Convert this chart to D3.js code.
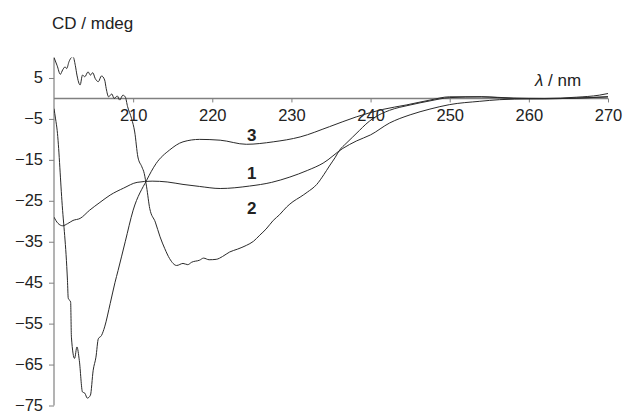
<!DOCTYPE html>
<html>
<head>
<meta charset="utf-8">
<script src="https://cdn.jsdelivr.net/npm/d3@7"></script>
<style>
  body { margin: 0; background: #fff; }
  text { font-family: "Liberation Sans", Arial, sans-serif; }
</style>
</head>
<body>
<div id="chart"></div>
<script>
// wavelength (nm) / CD (mdeg) pairs
const curve1 = [[200,-29],[200.5,-30.5],[201.1,-31.1],[201.7,-30.6],[202.4,-29.8],[203.3,-29.3],[204.5,-27.3],[205.8,-25.4],
  [207.1,-23.6],[208.8,-21.9],[210.5,-20.5],[212.4,-20.2],[214.3,-20.4],[216.3,-21],[218.4,-21.5],[221,-22],[224.7,-21.4],
  [227.5,-20.5],[229.8,-19.2],[232,-17.6],[234,-15.8],[236.5,-12.2],[238.2,-10.4],[240,-8.9],[242.4,-6],[245,-4],
  [247.5,-2.6],[250,-1.5],[253.8,-0.7],[256.3,-0.3],[260,-0.1],[265,0],[270,0.4]];

const curve2 = [[200,10],[200.4,8],[200.8,5.9],[201.1,7],[201.4,7.7],[201.6,7.3],[201.9,9],[202.2,10],[202.4,10.2],
  [202.7,8],[202.9,5.7],[203.3,3.3],[203.6,5.7],[203.9,5.3],[204.3,6.5],[204.6,5.7],[204.9,6.3],[205.2,4.9],[205.6,4.1],
  [206,5.5],[206.4,4.5],[206.6,2.4],[206.9,0.4],[207.3,1.1],[207.6,0],[208,0.6],[208.3,-0.4],[208.7,0.8],[209,0.4],
  [209.3,-2],[209.8,-4.9],[210.2,-8.2],[210.6,-14.3],[211.1,-16.7],[211.4,-18.3],[211.7,-21.6],[212.1,-26.9],[212.8,-30.2],
  [213.4,-33.8],[214,-36.7],[214.6,-39.1],[215.5,-40.8],[216.3,-40.3],[216.9,-40.6],[217.4,-40],[218.4,-39.5],[218.9,-39],
  [219.6,-39.4],[220.5,-39.3],[221.3,-38.6],[222.2,-37.5],[223.2,-36.8],[224.3,-35.9],[225.2,-34.9],[226,-33.4],
  [226.8,-31.9],[227.7,-29.8],[228.5,-28.4],[229.4,-26.5],[230.2,-25.2],[231.1,-24.1],[232,-22.9],[233.2,-21],
  [234.1,-18.6],[234.8,-16.5],[235.5,-14.5],[236.1,-12.6],[236.9,-11],[237.7,-9.5],[238.6,-7.8],[239.4,-6.3],[240.3,-4.9],
  [242.4,-2.9],[245,-1.6],[247.5,-0.6],[250,0.2],[254,0.4],[258,0.1],[262,0],[266,0.3],[268.9,0.8],[270,1.2]];

const curve3 = [[200,-2.5],[200.2,-5],[200.4,-7.8],[201,-25],[201.7,-44.4],[201.8,-48.8],[202.1,-49.7],[202.2,-58.3],
  [202.6,-63.5],[202.9,-60.7],[203.2,-64],[203.6,-71.7],[203.9,-72],[204.2,-73.2],[204.6,-72.5],[204.95,-66.4],
  [205.3,-63.2],[205.6,-58.7],[206,-57.9],[206.4,-55.8],[207.1,-50.1],[207.7,-45],[208.1,-42],[209,-35],[210,-27.3],
  [211.7,-20],[212.9,-15.9],[214.6,-12.6],[216.3,-10.6],[218.4,-10],[221,-10.2],[224.3,-11.2],[227.7,-10.6],[231.1,-9.4],
  [234.8,-6.9],[238.2,-4.5],[241.5,-2.7],[244.5,-1.6],[247.5,-0.4],[250,0.4],[254,0.4],[258,0],[262,-0.1],[266,0.1],[270,0.4]];

const xTicks = [210, 220, 230, 240, 250, 260, 270];
const yTicks = [5, -5, -15, -25, -35, -45, -55, -65, -75];

// curve number labels, placed at (nm, mdeg)
const curveLabels = [["3", 225, -9], ["1", 225, -18.2], ["2", 225, -26.8]];

const width = 625, height = 412;

const svg = d3.select("#chart").append("svg")
    .attr("width", width)
    .attr("height", height);

const x = d3.scaleLinear().domain([200, 270]).range([54, 608]);
const y = d3.scaleLinear().domain([-75, 10]).range([405.5, 57.5]);

const axisColor = "#808080";

// clip so the noisy curve 2 is cut at the top of the frame
svg.append("clipPath").attr("id", "plotclip")
    .append("rect")
    .attr("x", x(200)).attr("y", y(10))
    .attr("width", x(270) - x(200) + 2)
    .attr("height", y(-75) - y(10));

// y axis
let yAxis = svg.append("g")
    .attr("transform", "translate(" + x(200) + ",0)")
    .call(d3.axisLeft(y).tickValues(yTicks).tickSize(5).tickPadding(6)
        .tickFormat(d => d < 0 ? "\u2212" + Math.abs(d) : d));
yAxis.select(".domain").remove();
yAxis.append("line")
    .attr("x1", 0).attr("x2", 0)
    .attr("y1", y(10)).attr("y2", y(-75))
    .attr("stroke", axisColor).attr("stroke-width", 1.2);
yAxis.selectAll(".tick text").attr("dy", "0.3em");

// x axis sits on the zero line
let xAxis = svg.append("g")
    .attr("transform", "translate(0," + y(0) + ")")
    .call(d3.axisBottom(x).tickValues(xTicks).tickSize(4).tickPadding(7).tickFormat(d3.format("d")));
xAxis.select(".domain").remove();
xAxis.append("line")
    .attr("x1", x(200)).attr("x2", x(270))
    .attr("stroke", axisColor).attr("stroke-width", 1.5);

svg.selectAll(".tick line").attr("stroke", axisColor);
svg.selectAll(".tick text")
    .attr("fill", "#222")
    .style("font-size", "16.5px")
    .style("font-family", "'Liberation Sans', Arial, sans-serif");

// spectra
const line = d3.line()
    .x(d => x(d[0]))
    .y(d => y(d[1]))
    .curve(d3.curveMonotoneX);

[curve1, curve2, curve3].forEach(function(c) {
    svg.append("path")
        .datum(c)
        .attr("clip-path", "url(#plotclip)")
        .attr("d", line)
        .attr("fill", "none")
        .attr("stroke", "#2a2a2a")
        .attr("stroke-width", 1);
});

// curve numbers
svg.selectAll(".clabel")
    .data(curveLabels)
    .enter().append("text")
    .attr("class", "clabel")
    .attr("x", d => x(d[1]))
    .attr("y", d => y(d[2]))
    .attr("text-anchor", "middle")
    .attr("dy", "0.35em")
    .style("font-size", "17px")
    .style("font-weight", "bold")
    .attr("fill", "#222")
    .text(d => d[0]);

// axis titles
svg.append("text")
    .attr("x", 52).attr("y", 28.5)
    .style("font-size", "17px")
    .attr("fill", "#222")
    .text("CD / mdeg");

let xt = svg.append("text")
    .attr("x", 535).attr("y", 86)
    .style("font-size", "17px")
    .attr("fill", "#222");
xt.append("tspan").style("font-style", "italic").text("\u03bb");
xt.append("tspan").text(" / nm");
</script>
</body>
</html>
